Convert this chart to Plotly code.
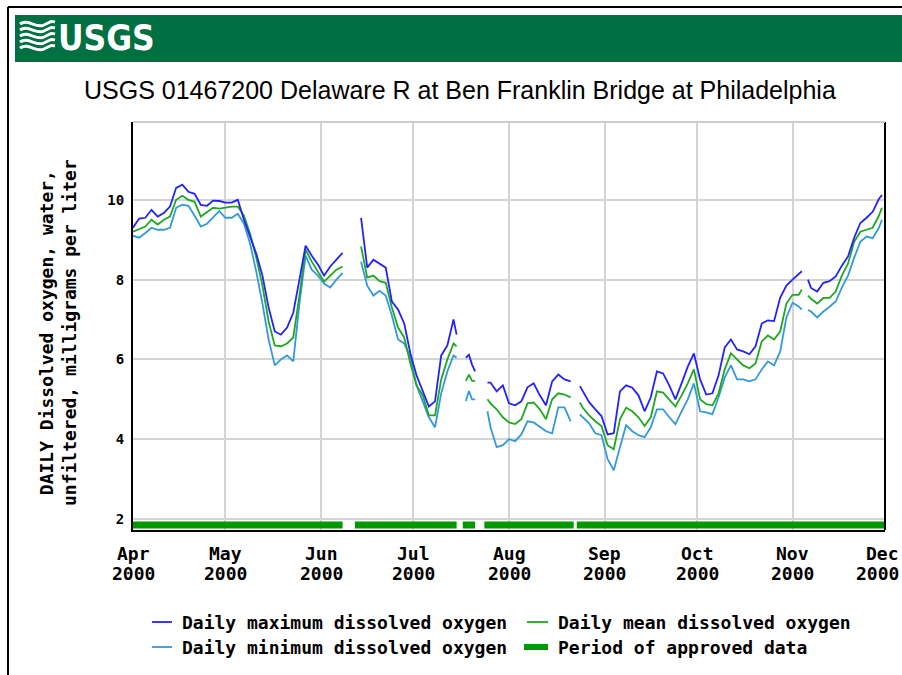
import plotly.graph_objects as go

# ---------------- data ----------------
dates = [
    "2000-04-01", "2000-04-03", "2000-04-05", "2000-04-07", "2000-04-09", "2000-04-11", "2000-04-13",
    "2000-04-15", "2000-04-17", "2000-04-19", "2000-04-21", "2000-04-23", "2000-04-25", "2000-04-27", "2000-04-29",
    "2000-05-01", "2000-05-03", "2000-05-05", "2000-05-07", "2000-05-09", "2000-05-11", "2000-05-13", "2000-05-15",
    "2000-05-17", "2000-05-19", "2000-05-21", "2000-05-23", "2000-05-25", "2000-05-27", "2000-05-29", "2000-05-31",
    "2000-06-02", "2000-06-04", "2000-06-06", "2000-06-08",
    "2000-06-10",
    "2000-06-14", "2000-06-16", "2000-06-18", "2000-06-20", "2000-06-22", "2000-06-24", "2000-06-26", "2000-06-28", "2000-06-30",
    "2000-07-02", "2000-07-04", "2000-07-06", "2000-07-08", "2000-07-10", "2000-07-12", "2000-07-14", "2000-07-15",
    "2000-07-17",
    "2000-07-18", "2000-07-19", "2000-07-20", "2000-07-21",
    "2000-07-23",
    "2000-07-25", "2000-07-26", "2000-07-28", "2000-07-30", "2000-08-01", "2000-08-03", "2000-08-05", "2000-08-07",
    "2000-08-09", "2000-08-11", "2000-08-13", "2000-08-15", "2000-08-17", "2000-08-19", "2000-08-21",
    "2000-08-22",
    "2000-08-24", "2000-08-25", "2000-08-27", "2000-08-29", "2000-08-31",
    "2000-09-02", "2000-09-04", "2000-09-06", "2000-09-08", "2000-09-10", "2000-09-12", "2000-09-14", "2000-09-16",
    "2000-09-18", "2000-09-20", "2000-09-22", "2000-09-24", "2000-09-26", "2000-09-28", "2000-09-30",
    "2000-10-02", "2000-10-04", "2000-10-06", "2000-10-08", "2000-10-10", "2000-10-12", "2000-10-14", "2000-10-16",
    "2000-10-18", "2000-10-20", "2000-10-22", "2000-10-24", "2000-10-26", "2000-10-28", "2000-10-30",
    "2000-11-01", "2000-11-03", "2000-11-04",
    "2000-11-05",
    "2000-11-06", "2000-11-07", "2000-11-09", "2000-11-11", "2000-11-13", "2000-11-15", "2000-11-17", "2000-11-19",
    "2000-11-21", "2000-11-23", "2000-11-25", "2000-11-27", "2000-11-29", "2000-11-30",
]

do_max = [
    9.3, 9.53, 9.55, 9.75, 9.58, 9.67, 9.83, 10.3, 10.38, 10.2, 10.15, 9.87, 9.85, 9.98, 9.97,
    9.93, 9.93, 10.0, 9.5, 9.08, 8.65, 8.1, 7.3, 6.7, 6.62, 6.8, 7.17, 8.0, 8.85, 8.6, 8.38,
    8.1, 8.33, 8.5, 8.67,
    None,
    9.55, 8.3, 8.5, 8.4, 8.3, 7.45, 7.25, 6.9, 6.15,
    5.6, 5.2, 4.82, 4.95, 6.1, 6.35, 7.0, 6.62,
    None,
    6.04, 6.12, 5.87, 5.7,
    None,
    5.42, 5.42, 5.2, 5.35, 4.9, 4.85, 4.95, 5.3, 5.4, 5.1, 4.85, 5.45, 5.62, 5.5, 5.45,
    None,
    5.33, 5.2, 4.93, 4.75, 4.58,
    4.12, 4.15, 5.2, 5.35, 5.29, 5.1, 4.7, 5.05, 5.7, 5.65, 5.35, 5.0, 5.4, 5.82, 6.15,
    5.5, 5.12, 5.15, 5.6, 6.3, 6.5, 6.25, 6.2, 6.13, 6.33, 6.9, 6.98, 6.96, 7.55, 7.85,
    8.0, 8.15, 8.21,
    None,
    8.0, 7.79, 7.7, 7.92, 7.96, 8.08, 8.35, 8.58, 9.05, 9.42, 9.55, 9.7, 10.02, 10.12,
]

do_mean = [
    9.2, 9.27, 9.33, 9.5, 9.38, 9.5, 9.58, 10.0, 10.1, 10.0, 9.95, 9.58, 9.7, 9.8, 9.78,
    9.8, 9.83, 9.83, 9.6, 9.15, 8.55, 7.85, 6.95, 6.35, 6.33, 6.4, 6.55, 7.6, 8.75, 8.45, 8.2,
    7.95, 8.1, 8.25, 8.33,
    None,
    8.83, 8.05, 8.1, 7.96, 7.92, 7.3, 6.8, 6.55, 5.9,
    5.35, 5.1, 4.6, 4.6, 5.5, 6.0, 6.4, 6.33,
    None,
    5.46, 5.62, 5.46, 5.46,
    None,
    5.0, 4.9, 4.75, 4.55, 4.42, 4.38, 4.5, 4.9, 4.92, 4.75, 4.5, 5.0, 5.15, 5.12, 5.05,
    None,
    4.92, 4.78, 4.6, 4.45, 4.33,
    3.85, 3.75, 4.5, 4.79, 4.7, 4.55, 4.33, 4.55, 5.2, 5.17, 5.0, 4.82, 5.1, 5.4, 5.75,
    5.0, 4.88, 4.85, 5.15, 5.75, 6.15, 6.0, 5.85, 5.78, 5.9, 6.45, 6.6, 6.5, 6.7, 7.4,
    7.62, 7.62, 7.75,
    None,
    7.6, 7.52, 7.4, 7.54, 7.54, 7.7, 8.1, 8.4, 8.95, 9.2, 9.25, 9.3, 9.6, 9.8,
]

do_min = [
    9.1, 9.05, 9.17, 9.3, 9.25, 9.25, 9.3, 9.8, 9.88, 9.85, 9.6, 9.33, 9.4, 9.55, 9.72,
    9.55, 9.55, 9.65, 9.4, 8.9, 8.2, 7.4, 6.5, 5.85, 6.0, 6.1, 5.95, 7.4, 8.6, 8.25, 8.1,
    7.9, 7.8, 8.0, 8.17,
    None,
    8.45, 7.85, 7.6, 7.72, 7.6, 7.1, 6.5, 6.4, 6.05,
    5.35, 4.95, 4.55, 4.3, 5.15, 5.7, 6.1, 6.04,
    None,
    4.96, 5.21, 5.0, 5.0,
    None,
    4.7, 4.3, 3.8, 3.85, 4.0, 3.95, 4.12, 4.45, 4.42, 4.3, 4.2, 4.15, 4.8, 4.8, 4.45,
    None,
    4.62, 4.55, 4.4, 4.15, 4.1,
    3.5, 3.22, 3.8, 4.35, 4.2, 4.1, 4.05, 4.3, 4.75, 4.75, 4.55, 4.38, 4.7, 5.0, 5.4,
    4.7, 4.67, 4.63, 5.05, 5.55, 5.85, 5.5, 5.5, 5.45, 5.5, 5.75, 5.95, 5.85, 6.2, 7.05,
    7.42, 7.33, 7.25,
    None,
    7.24, 7.2, 7.05, 7.2, 7.32, 7.45, 7.8, 8.1, 8.55, 8.95, 9.08, 9.04, 9.3, 9.5,
]

approved_start = ["2000-04-01", "2000-06-12", "2000-07-17", "2000-07-24", "2000-08-23"]
approved_end = ["2000-06-08", "2000-07-15", "2000-07-21", "2000-08-22", "2000-12-01"]

month_ticks = ["2000-04-01", "2000-05-01", "2000-06-01", "2000-07-01", "2000-08-01",
               "2000-09-01", "2000-10-01", "2000-11-01", "2000-12-01"]
month_names = ["Apr", "May", "Jun", "Jul", "Aug", "Sep", "Oct", "Nov", "Dec"]
tick_years = ["2000"] * 9
y_ticks = [2, 4, 6, 8, 10]

title_text = "USGS 01467200 Delaware R at Ben Franklin Bridge at Philadelphia"
y_title = "DAILY Dissolved oxygen, water,<br>unfiltered, milligrams per liter"
legend_labels = ["Daily maximum dissolved oxygen", "Daily mean dissolved oxygen",
                 "Daily minimum dissolved oxygen", "Period of approved data"]

# ---------------- styling / layout ----------------
W, H = 902, 675
L, R, T, B = 133, 885, 122, 530
C_MAX = "#2222ff"
C_MEAN = "#1fa81f"
C_MIN = "#3399dd"
C_APPR = "#009a00"
HEADER_GREEN = "#006f41"
APPROVED_LEVEL = 1.85
MONO = "DejaVu Sans Mono, Liberation Mono, monospace"
LW = 1.8


def px(x):
    return (x - L) / (R - L)


def py(y):
    return (B - y) / (B - T)


fig = go.Figure()

fig.add_trace(go.Scatter(x=dates, y=do_min, mode="lines", line=dict(color=C_MIN, width=LW),
                         connectgaps=False, showlegend=False, name=legend_labels[2]))
fig.add_trace(go.Scatter(x=dates, y=do_mean, mode="lines", line=dict(color=C_MEAN, width=LW),
                         connectgaps=False, showlegend=False, name=legend_labels[1]))
fig.add_trace(go.Scatter(x=dates, y=do_max, mode="lines", line=dict(color=C_MAX, width=LW),
                         connectgaps=False, showlegend=False, name=legend_labels[0]))

ax, ay = [], []
for s, e in zip(approved_start, approved_end):
    ax += [s, e, None]
    ay += [APPROVED_LEVEL, APPROVED_LEVEL, None]
fig.add_trace(go.Scatter(x=ax, y=ay, mode="lines", line=dict(color=C_APPR, width=7),
                         connectgaps=False, showlegend=False, name=legend_labels[3], cliponaxis=False))

shapes = []
annotations = []

# outer black frame (left and top)
shapes.append(dict(type="line", xref="paper", yref="paper", x0=px(8), x1=px(8), y0=py(7), y1=py(680),
                   line=dict(color="black", width=2)))
shapes.append(dict(type="line", xref="paper", yref="paper", x0=px(8), x1=px(905), y0=py(7), y1=py(7),
                   line=dict(color="black", width=2)))
# header banner
shapes.append(dict(type="rect", xref="paper", yref="paper", x0=px(15), x1=px(905), y0=py(15), y1=py(62),
                   fillcolor=HEADER_GREEN, line=dict(width=0), layer="above"))
# wave icon in logo
for i, yy in enumerate([24, 30, 36, 42, 48]):
    d = (f"M {px(20)},{py(yy)} C {px(28)},{py(yy - 6)} {px(36)},{py(yy + 5)} {px(44)},{py(yy + 1)} "
         f"S {px(51)},{py(yy - 3)} {px(55)},{py(yy - 2)}")
    shapes.append(dict(type="path", xref="paper", yref="paper", path=d,
                       line=dict(color="white", width=3), layer="above"))
annotations.append(dict(xref="paper", yref="paper", x=px(56), y=py(38), xanchor="left", yanchor="middle",
                        text="<b>USGS</b>", showarrow=False,
                        font=dict(family="Liberation Sans Narrow, DejaVu Sans Condensed, Arial Narrow, sans-serif",
                                  size=35, color="white")))

# plot frame: right black, top gray
shapes.append(dict(type="line", xref="paper", yref="paper", x0=1, x1=1, y0=0, y1=1,
                   line=dict(color="black", width=2)))
shapes.append(dict(type="line", xref="paper", yref="paper", x0=0, x1=1, y0=1, y1=1,
                   line=dict(color="#cccccc", width=2)))

# title
annotations.append(dict(xref="paper", yref="paper", x=px(460), y=py(90), xanchor="center", yanchor="middle",
                        text=title_text, showarrow=False,
                        font=dict(family="Liberation Sans, Arial, sans-serif", size=25, color="black")))

# y-axis title
annotations.append(dict(xref="paper", yref="paper", x=px(58), y=py(333), xanchor="center", yanchor="middle",
                        text=y_title, showarrow=False, textangle=-90,
                        font=dict(family=MONO, size=18, color="black", weight="bold")))

# x tick labels (two lines each); the last one is kept inside the page edge
for i, (tv, mn, yr) in enumerate(zip(month_ticks, month_names, tick_years)):
    last = i == len(month_ticks) - 1
    for txt, yy in ((mn, 553), (yr, 573)):
        if last:
            a = dict(xref="paper", x=px(901), xanchor="right")
        else:
            a = dict(xref="x", x=tv, xanchor="center")
        a.update(yref="paper", y=py(yy), yanchor="middle", text=txt, showarrow=False,
                 font=dict(family=MONO, size=18, color="black", weight="bold"))
        annotations.append(a)

# custom legend
leg_rows = [(622, 152, 172, 180, C_MAX, 1.8, legend_labels[0]),
            (622, 527, 548, 556, C_MEAN, 1.8, legend_labels[1]),
            (647, 152, 172, 180, C_MIN, 1.8, legend_labels[2]),
            (647, 524, 548, 556, C_APPR, 6, legend_labels[3])]
for yy, x0, x1, xt, col, wd, lab in leg_rows:
    shapes.append(dict(type="line", xref="paper", yref="paper", x0=px(x0), x1=px(x1), y0=py(yy), y1=py(yy),
                       line=dict(color=col, width=wd)))
    annotations.append(dict(xref="paper", yref="paper", x=px(xt), y=py(yy), xanchor="left", yanchor="middle",
                            text=lab, showarrow=False,
                            font=dict(family=MONO, size=18, color="black", weight="bold")))

fig.update_layout(
    width=W, height=H, autosize=False,
    margin=dict(l=L, r=W - R, t=T, b=H - B, pad=0),
    paper_bgcolor="white", plot_bgcolor="white",
    shapes=shapes, annotations=annotations,
    xaxis=dict(type="date", range=["2000-04-01", "2000-12-01"], tickvals=month_ticks,
               showticklabels=False,
               showgrid=True, gridcolor="#d4d4d4", gridwidth=2, showline=True, linecolor="black", linewidth=2,
               ticks="", zeroline=False, fixedrange=True),
    yaxis=dict(range=[1.725, 11.95], tickvals=y_ticks, ticktext=[str(v) for v in y_ticks],
               showgrid=True, gridcolor="#d4d4d4", gridwidth=2, showline=True, linecolor="black", linewidth=2,
               ticks="", tickfont=dict(family=MONO, size=14, color="black", weight="bold"),
               ticklabelstandoff=4, zeroline=False, fixedrange=True),
)

fig.write_html("out.html", config={"displayModeBar": False},
               post_script="document.body.style.margin='0';")
